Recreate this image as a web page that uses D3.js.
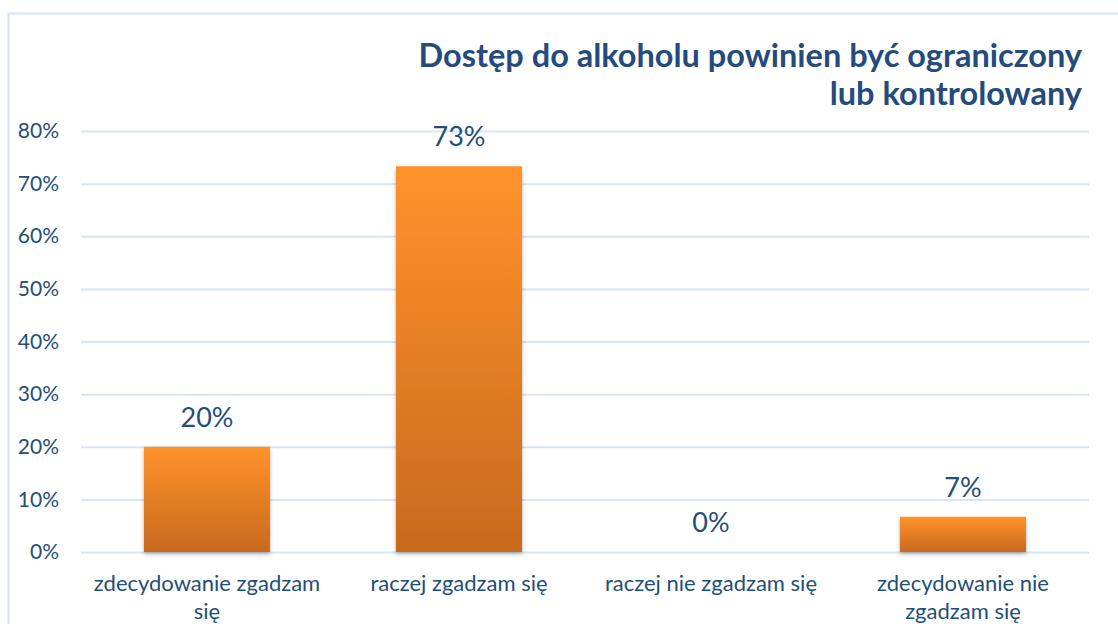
<!DOCTYPE html>
<html><head><meta charset="utf-8">
<script src="https://cdn.jsdelivr.net/npm/d3@7"></script>
<style>body{margin:0;background:#fff}svg{display:block}text{font-family:Lato,"Open Sans",sans-serif}</style>
</head><body><svg id="c" width="1118" height="624"></svg>
<script>
const categories = ["zdecydowanie zgadzam się", "raczej zgadzam się", "raczej nie zgadzam się", "zdecydowanie nie zgadzam się"];
const values = [20, 73.3, 0, 6.7];
const valueLabels = ["20%", "73%", "0%", "7%"];
const tickValues = [0, 10, 20, 30, 40, 50, 60, 70, 80];
const titleLines = ["Dostęp do alkoholu powinien być ograniczony", "lub kontrolowany"];

const svg = d3.select("#c");
const M = {left: 81, right: 1089, top: 131, bottom: 552};
const txt = "#1f4e79";

const defs = svg.append("defs");
const g = defs.append("linearGradient").attr("id","bar").attr("x1",0).attr("y1",0).attr("x2",0).attr("y2",1);
g.append("stop").attr("offset","0%").attr("stop-color","#ff932c");
g.append("stop").attr("offset","100%").attr("stop-color","#c9691e");
const f = defs.append("filter").attr("id","sh").attr("x","-10%").attr("y","-10%").attr("width","120%").attr("height","130%");
f.append("feDropShadow").attr("dx",0).attr("dy",2).attr("stdDeviation",2).attr("flood-color","#000").attr("flood-opacity",0.3);

svg.append("rect").attr("x",8.5).attr("y",13.5).attr("width",1130).attr("height",640)
  .attr("fill","#fff").attr("stroke","#d5e3f3").attr("stroke-width",2);

const x = d3.scaleBand().domain(categories).range([M.left, M.right]).paddingInner(0.5).paddingOuter(0.25);
const y = d3.scaleLinear().domain([0, 80]).range([M.bottom, M.top]);

// gridlines
const grid = svg.append("g").attr("transform",`translate(${M.left},0)`)
  .call(d3.axisLeft(y).tickValues(tickValues).tickSize(-(M.right-M.left)).tickFormat(""));
grid.select(".domain").remove();
grid.selectAll("line").attr("stroke","#d9e5f4").attr("stroke-width",2);

// y tick labels
const ya = svg.append("g").attr("transform","translate(59,0)")
  .call(d3.axisLeft(y).tickValues(tickValues).tickSize(0).tickPadding(0).tickFormat(d => d + "%"));
ya.select(".domain").remove();
ya.selectAll("text").attr("fill",txt).style("font-size","21px").style("font-family","Lato");

// bars
svg.append("g").selectAll("rect").data(values).join("rect")
  .attr("x",(d,i)=>x(categories[i])).attr("width",x.bandwidth())
  .attr("y",d=>y(d)).attr("height",d=>y(0)-y(d))
  .attr("fill","url(#bar)").attr("filter","url(#sh)");

// value labels
svg.append("g").selectAll("text").data(values).join("text")
  .attr("x",(d,i)=>x(categories[i])+x.bandwidth()/2).attr("y",d=>y(d)-20)
  .attr("text-anchor","middle").attr("fill",txt).style("font-size","27px")
  .text((d,i)=>valueLabels[i]);

// category labels with wrapping
const xa = svg.append("g").attr("transform",`translate(0,${M.bottom})`)
  .call(d3.axisBottom(x).tickSize(0).tickPadding(0));
xa.select(".domain").remove();
xa.selectAll("text").attr("fill",txt).attr("dy",null).style("font-size","22px").each(function(d){
  const t = d3.select(this); const words = d.split(" ");
  t.text(null).attr("y",0);
  let lines = [], cur = [];
  const test = t.append("tspan");
  words.forEach(w=>{ cur.push(w); test.text(cur.join(" "));
    if (test.node().getComputedTextLength() > 245 && cur.length>1){ cur.pop(); lines.push(cur.join(" ")); cur=[w]; } });
  lines.push(cur.join(" ")); test.remove();
  lines.forEach((l,i)=>t.append("tspan").attr("x",0).attr("y",39+i*28).text(l));
});

// title
svg.append("g").selectAll("text").data(titleLines).join("text")
  .attr("x",1082).attr("y",(d,i)=>67+i*38).attr("text-anchor","end")
  .attr("fill","#254b7c").style("font-size","32.5px").style("font-weight","bold").text(d=>d);
</script></body></html>
